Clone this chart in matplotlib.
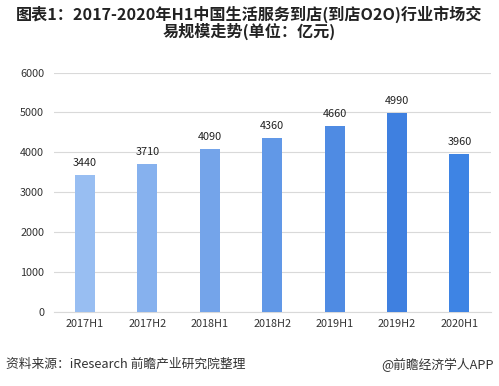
import matplotlib
matplotlib.use("Agg")
import matplotlib.pyplot as plt

plt.rcParams['font.family'] = ['Noto Sans CJK SC', 'DejaVu Sans']

categories = ["2017H1", "2017H2", "2018H1", "2018H2", "2019H1", "2019H2", "2020H1"]
values = [3440, 3710, 4090, 4360, 4660, 4990, 3960]
colors = ["#98BEF2", "#86B1EE", "#74A4EA", "#6198E7", "#4F8BE3", "#3F80E0", "#3E84E4"]
yticks = [0, 1000, 2000, 3000, 4000, 5000, 6000]

fig = plt.figure(figsize=(4.99, 3.86), dpi=100)
ax = fig.add_axes([0.108, 0.192, 0.875, 0.620])

x = range(len(categories))
bars = ax.bar(x, values, width=0.32, color=colors, zorder=3)
for xi, v in zip(x, values):
    ax.text(xi, v + 170, str(v), ha='center', va='bottom', fontsize=7.8, color='#222222')

ax.set_xlim(-0.5, len(categories) - 0.5)
ax.set_ylim(0, 6000)
ax.set_yticks(yticks)
ax.set_yticklabels([str(t) for t in yticks], fontsize=7.8, color='#333333')
ax.set_xticks(list(x))
ax.set_xticklabels(categories, fontsize=7.8, color='#333333')
ax.tick_params(length=0)
ax.tick_params(axis='y', pad=7)
ax.tick_params(axis='x', pad=5)
ax.grid(axis='y', color='#D9D9D9', linewidth=0.8, zorder=0)
for s in ['top', 'right', 'left']:
    ax.spines[s].set_visible(False)
ax.spines['bottom'].set_color('#D9D9D9')
ax.spines['bottom'].set_linewidth(0.8)

fig.text(0.5, 0.985, "图表1：2017-2020年H1中国生活服务到店(到店O2O)行业市场交\n易规模走势(单位：亿元)",
         ha='center', va='top', fontsize=11.6, fontweight='bold', color='#222222', linespacing=0.95)
fig.text(0.012, 0.055, "资料来源：iResearch 前瞻产业研究院整理", ha='left', va='center', fontsize=9.2, color='#333333')
fig.text(0.99, 0.055, "@前瞻经济学人APP", ha='right', va='center', fontsize=9.2, color='#333333')

fig.savefig("out.png", dpi=100)
